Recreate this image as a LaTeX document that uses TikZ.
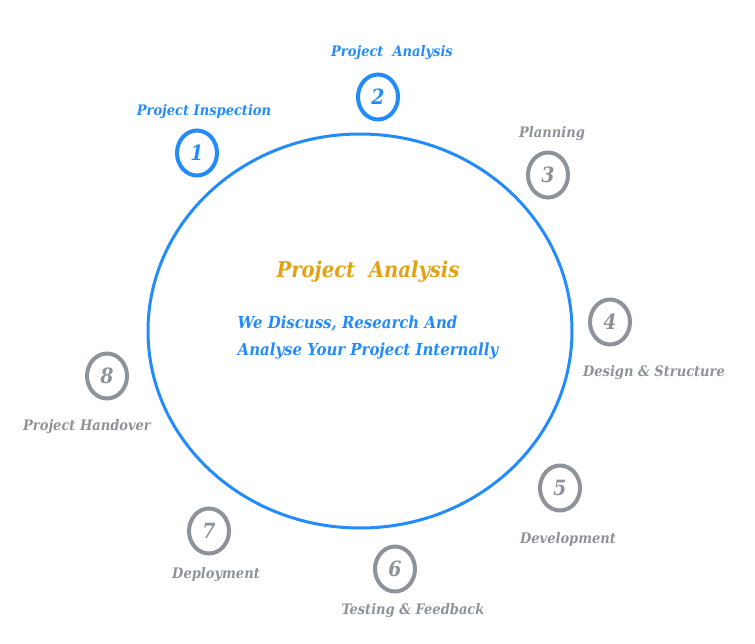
\documentclass[tikz,border=0pt]{standalone}
\usepackage{fontspec}
\setmainfont{DejaVu Serif Condensed}
\usetikzlibrary{shapes.geometric}
\definecolor{stepblue}{RGB}{35,140,250}
\definecolor{stepgray}{RGB}{142,147,153}
\definecolor{titlegold}{RGB}{226,162,22}

\begin{document}
\begin{tikzpicture}[
  x=1pt,y=-1pt,
  stage/.style={draw=stepgray,line width=4pt,ellipse,minimum width=40pt,minimum height=45pt,inner sep=0pt,
    text=stepgray,font=\bfseries\itshape\fontsize{21}{21}\selectfont},
  active/.style={stage,draw=stepblue,text=stepblue},
  caption/.style={font=\bfseries\itshape\fontsize{14.5}{14.5}\selectfont,text=stepgray},
  activecap/.style={caption,text=stepblue}
]
  \useasboundingbox (0,0) rectangle (755,643);

  % the big ring
  \node[draw=stepblue,line width=3pt,ellipse,minimum width=424pt,minimum height=394pt] (ring) at (360,331) {};

  % the eight steps
  \node[active] (s1) at (197,153) {1};
  \node[active] (s2) at (378,97) {2};
  \node[stage] (s3) at (548,175) {3};
  \node[stage] (s4) at (610,322) {4};
  \node[stage] (s5) at (560,488) {5};
  \node[stage] (s6) at (395,569) {6};
  \node[stage] (s7) at (209,531) {7};
  \node[stage] (s8) at (107,376) {8};

  % captions
  \node[activecap] (c1) at (204,112) {Project Inspection};
  \node[activecap] (c2) at (392,53) {Project~ Analysis};
  \node[caption] (c3) at (552,134) {Planning};
  \node[caption] (c4) at (654,373) {Design \& Structure};
  \node[caption] (c5) at (568,539) {Development};
  \node[caption] (c6) at (413,611) {Testing \& Feedback};
  \node[caption] (c7) at (216,575) {Deployment};
  \node[caption] (c8) at (87,427) {Project Handover};

  % centre text
  \node[font=\bfseries\itshape\fontsize{21.8}{21.8}\selectfont,text=titlegold] (title) at (368,272) {Project~ Analysis};
  \node[font=\bfseries\itshape\fontsize{16.6}{27}\selectfont,text=stepblue,align=left] (desc) at (368,338)
    {We Discuss, Research And\\Analyse Your Project Internally};
\end{tikzpicture}
\end{document}
